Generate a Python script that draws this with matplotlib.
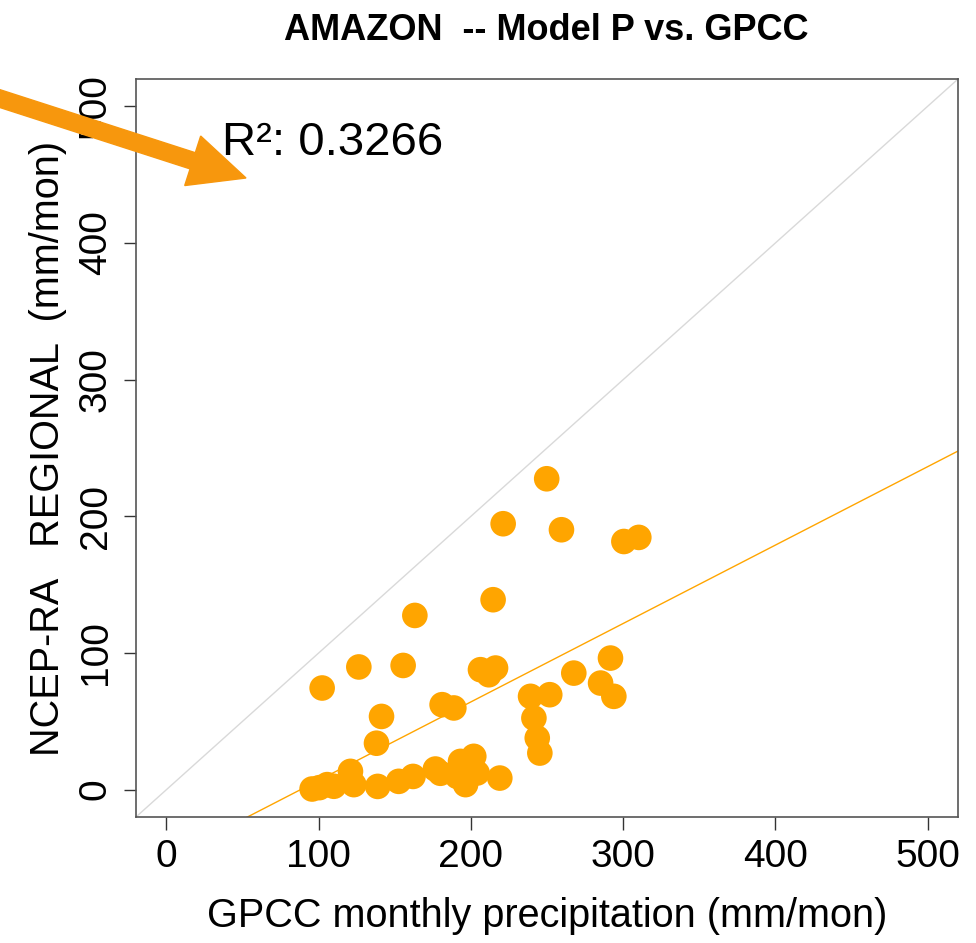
import numpy as np
import matplotlib
matplotlib.use("Agg")
import matplotlib.pyplot as plt
from matplotlib.patches import FancyArrow
from matplotlib.transforms import IdentityTransform

plt.rcParams['font.family'] = ['Liberation Sans', 'DejaVu Sans']

title = "AMAZON  -- Model P vs. GPCC"
xlabel = "GPCC monthly precipitation (mm/mon)"
ylabel = "NCEP-RA   REGIONAL  (mm/mon)"
r2_text = "R²: 0.3266"
ticks = [0, 100, 200, 300, 400, 500]

gpcc = [249.8, 221.2, 259.5, 300.5, 310.3, 214.6, 163.2, 102.3, 126.4, 155.5,
        206.3, 216.2, 211.8, 291.7, 267.6, 285.2, 293.9, 239.2, 251.8, 241.4,
        243.6, 245.3, 181.1, 188.8, 141.3, 138.0, 219.0, 95.7, 105.6, 110.0,
        120.9, 123.1, 138.8, 152.6, 162.0, 176.7, 193.2, 201.9, 191.0, 196.5,
        204.1, 100.5, 180.0, 198.0]
ncep = [227.5, 194.6, 190.2, 181.6, 184.6, 139.0, 127.5, 74.4, 89.8, 90.9,
        87.8, 89.0, 84.1, 96.3, 85.3, 78.0, 68.3, 68.3, 69.5, 52.4,
        37.8, 26.8, 62.2, 59.8, 53.6, 34.0, 8.5, 0.5, 3.7, 2.5,
        13.4, 3.7, 2.4, 6.1, 9.7, 15.1, 20.7, 24.4, 9.7, 3.7,
        12.2, 1.5, 12.0, 17.0]

fig = plt.figure(figsize=(9.76, 9.43), dpi=100)
ax = fig.add_axes([0.1393, 0.1336, 0.8423, 0.7826])
ax.set_xlim(-20, 520)
ax.set_ylim(-20, 520)

orange = '#FFA500'
ax.plot([-20, 520], [-20, 520], color='#d9d9d9', lw=1.0, zorder=1)
ax.scatter(gpcc, ncep, s=340, color=orange, edgecolors='none', zorder=3)

slope, intercept = np.polyfit(gpcc, ncep, 1)
xs = np.array([-20, 520])
ax.plot(xs, slope * xs + intercept, color=orange, lw=1.0, zorder=2)

ax.set_xticks(ticks)
ax.set_yticks(ticks)
ax.set_xticklabels([str(t) for t in ticks])
ax.set_yticklabels([str(t) for t in ticks], rotation=90, va='center')
ax.tick_params(axis='both', direction='out', length=9, width=1.0, color='#333333',
               labelsize=28, pad=7)
for s in ax.spines.values():
    s.set_color('#555555')
    s.set_linewidth(1.2)

ax.set_xlabel(xlabel, fontsize=28.5, labelpad=16)
ax.set_ylabel(ylabel, fontsize=28.5, labelpad=8)
fig.text(0.560, 0.968, title, fontsize=26, fontweight='bold', ha='center', va='center')
ax.text(0.105, 0.913, r2_text, transform=ax.transAxes, fontsize=34, ha='left', va='center')

arrow = FancyArrow(-5, 943 - 97, 251, -81, width=17, head_width=52, head_length=56,
                   length_includes_head=True, color='#F7970D', transform=IdentityTransform(),
                   zorder=10)
fig.add_artist(arrow)

fig.savefig("out.png", dpi=100)
